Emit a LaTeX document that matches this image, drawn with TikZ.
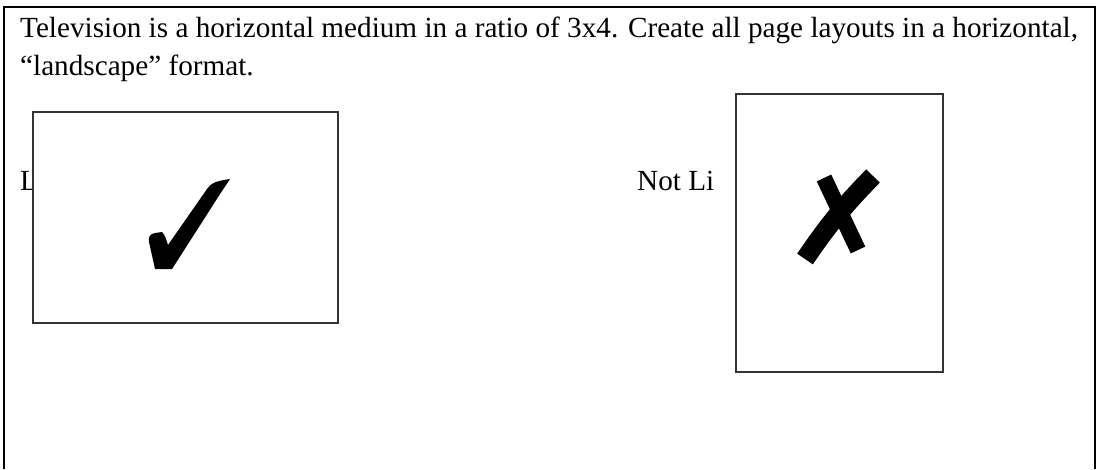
\documentclass[tikz,border=0pt]{standalone}
\usepackage{fontspec}
\setmainfont{Liberation Serif}
\usepackage{tikz}
\usetikzlibrary{positioning}
\tikzset{
txt/.style={inner sep=0pt,
  anchor=base west,
    font=\fontsize{29.2}{38}\selectfont},
sbox/.style={draw=black!80,
  fill=white,
    line width=1.2pt,
    inner sep=0pt},
}
\tikzset{frame/.style={line width=2.2pt}}

\begin{document}
\begin{tikzpicture}[x=1pt,y=-1pt]
    \useasboundingbox (0,0) rectangle (1099,469);
    \draw [frame] (4,469) -- (4,7) -- (1095,7) -- (1095,469);

    \node [txt] (intro1) at (20,37) {Television is a horizontal medium in a ratio of 3x4. Create all page layouts in a horizontal,};
    \node [txt] (intro2) at (20,75) {``landscape'' format.};
    \node [txt] (like) at (20,190) {Like};
    \node [txt] (notlike) at (637,190) {Not Like};

    \node [sbox, minimum width=305pt, minimum height=211pt] (wide) at (185.5,217.5) {};
    %\node covering the end of the label
    \fill [white] (715,94) rectangle (736,372);
    \node [sbox, minimum width=207pt, minimum height=278pt] (tall) at (839.5,233) {};

    % tick in the wide box
    \fill (155,269) -- (149,242) .. controls (148,237) and (150,234) .. (155,233) -- (162,232)
      .. controls (165,235) and (166,239) .. (168,245) -- (207,189)
      .. controls (211,183) and (216,181) .. (230,179) -- (222,191) -- (172,269) -- cycle;
    % cross in the tall box
    \draw [line width=19pt, line cap=butt, line join=round] (805,259) to[bend left=5] (873,176);
    \draw [line width=16pt, line cap=butt] (824,178) -- (858,250);
  \end{tikzpicture}
\end{document}
